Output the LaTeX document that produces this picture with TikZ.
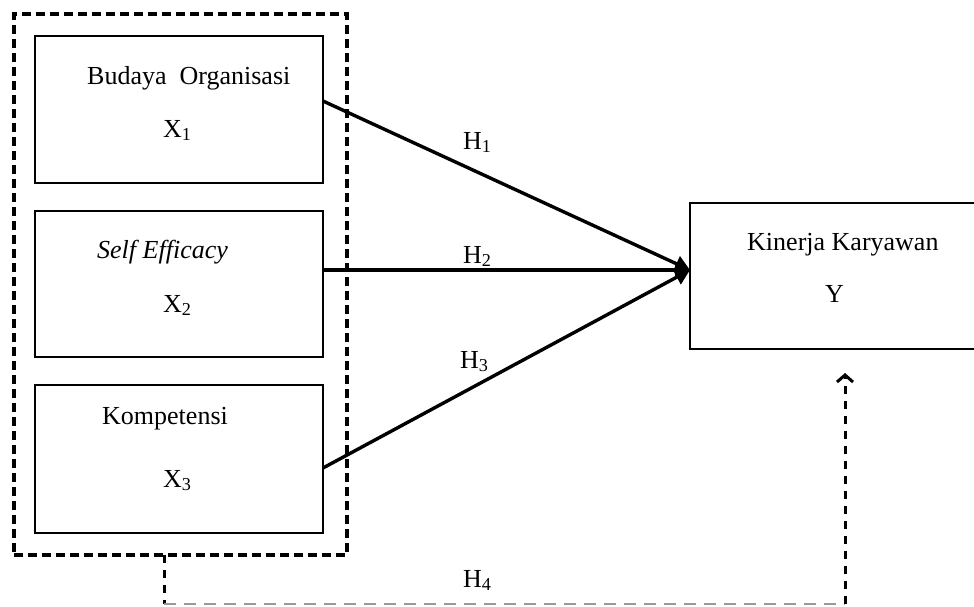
\documentclass[tikz,border=0pt]{standalone}
\usepackage{fontspec}
\setmainfont{Liberation Serif}
\usetikzlibrary{arrows.meta,calc}
\begin{document}
\begin{tikzpicture}[x=1pt,y=-1pt,
  every node/.style={font=\fontsize{26}{30}\selectfont},
  box/.style={draw, line width=2.6pt, inner sep=0pt, outer sep=0pt},
  grpbox/.style={draw, line width=3.8pt, dash pattern=on 9pt off 5pt, inner sep=0pt, outer sep=0pt, minimum width=333pt, minimum height=541pt},
  txt/.style={anchor=base west, inner sep=0pt},
  arr/.style={line width=3.4pt, -{Triangle[length=15pt,width=16pt]}},
  vconn/.style={line width=3pt, dash pattern=on 8pt off 7pt},
  hconn/.style={line width=2.6pt, gray!80, dash pattern=on 12pt off 8pt}
]
\useasboundingbox (0,0) rectangle (974,606);
% group box
\node[grpbox] (grp) at (180.5,284.5) {};
% boxes
\node[box, minimum width=288pt, minimum height=147pt] (b1) at (179,109.5) {};
\node[box, minimum width=288pt, minimum height=146pt] (b2) at (179,284) {};
\node[box, minimum width=288pt, minimum height=148pt] (b3) at (179,459) {};
\node[box, minimum width=286pt, minimum height=146pt] (y) at (833,276) {};
% texts
\node[txt] (t1) at (87,84) {Budaya\ \ Organisasi};
\node[txt] (x1) at (163,137) {X\textsubscript{1}};
\node[txt] (t2) at (97,258) {\textit{Self Efficacy}};
\node[txt] (x2) at (163,312) {X\textsubscript{2}};
\node[txt] (t3) at (102,424) {Kompetensi};
\node[txt] (x3) at (163,487) {X\textsubscript{3}};
\node[txt] (ty) at (747,250) {Kinerja Karyawan};
\node[txt] (yy) at (825,302) {Y};
\node[txt] (h1) at (463,149) {H\textsubscript{1}};
\node[txt] (h2) at (463,263) {H\textsubscript{2}};
\node[txt] (h3) at (460,368) {H\textsubscript{3}};
\node[txt] (h4) at (463,587) {H\textsubscript{4}};
% arrows
\draw[arr] ([yshift=8.5pt]b1.east) -- ([yshift=6pt]y.west);
\draw[arr] ([yshift=14pt]b2.east) -- ([yshift=6pt]y.west);
\draw[arr] ([yshift=-9pt]b3.east) -- ([yshift=6pt]y.west);
% dashed connector
\coordinate (c1) at (164,604);
\coordinate (c2) at (845,604);
\draw[vconn] ([xshift=-16.5pt]grp.south) -- (c1);
\draw[hconn] (c1) -- (c2);
\draw[vconn, shorten >=24pt, -{Straight Barb[length=7pt,width=16pt,line width=3pt]}] (c2) -- ([xshift=12pt]y.south);
\end{tikzpicture}
\end{document}
